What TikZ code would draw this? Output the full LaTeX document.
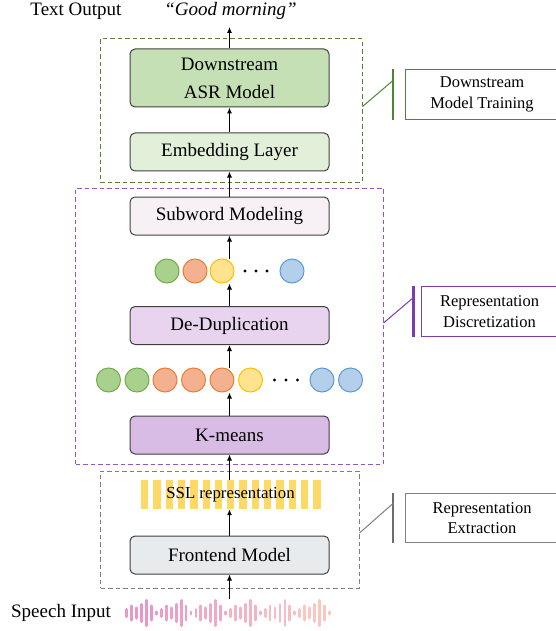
\documentclass[tikz,border=0pt]{standalone}
\usepackage{fontspec}
\setmainfont{Liberation Serif}
\usepackage{xcolor}
\usetikzlibrary{positioning,arrows.meta,calc}

\definecolor{blkline}{HTML}{404040}
\definecolor{asrfill}{HTML}{C5E0B4}
\definecolor{embfill}{HTML}{E2F0D9}
\definecolor{subfill}{HTML}{F7F1F6}
\definecolor{ddfill}{HTML}{E8D4EE}
\definecolor{kmfill}{HTML}{D8BCE5}
\definecolor{frfill}{HTML}{E8EBED}
\definecolor{dgreen}{HTML}{548235}
\definecolor{dpurple}{HTML}{9455CC}
\definecolor{tpurple}{HTML}{7A3DB0}
\definecolor{dgray}{HTML}{7F7F7F}
\definecolor{tokgd}{HTML}{70AD47}
\definecolor{tokgf}{HTML}{A9D18E}
\definecolor{tokod}{HTML}{ED7D31}
\definecolor{tokof}{HTML}{F4B18F}
\definecolor{tokyd}{HTML}{FFC000}
\definecolor{tokyf}{HTML}{FFE38F}
\definecolor{tokbd}{HTML}{5B9BD5}
\definecolor{tokbf}{HTML}{B4CFEA}
\definecolor{sslbar}{HTML}{FFD966}
\definecolor{wavea}{HTML}{E897C8}
\definecolor{waveb}{HTML}{FBC6C0}

\begin{document}
\begin{tikzpicture}[x=1pt, y=-1pt, font=\fontsize{19}{28}\selectfont,
    blk/.style={draw=blkline, line width=1pt, rounded corners=5pt, minimum width=199pt, minimum height=38pt, inner sep=0pt, align=center},
    grp/.style={draw, line width=1pt, dash pattern=on 4.5pt off 3pt, inner sep=0pt},
    tag/.style={draw, line width=1pt, inner sep=0pt, align=center, anchor=north west, minimum height=50pt, font=\fontsize{16.5}{20.5}\selectfont},
    tok/.style={circle, line width=1pt, minimum size=24pt, inner sep=0pt},
    up/.style={-{Latex[length=6pt,width=5pt]}, line width=1pt}]
    \useasboundingbox (0,0) rectangle (556,631);
    \clip (0,0) rectangle (556,631);

    % stage frames
    \node[grp, draw=dgreen, minimum width=262pt, minimum height=143pt] (gdown) at (231,110.5) {};
    \node[grp, draw=dpurple, minimum width=307.5pt, minimum height=276pt] (gdisc) at (229.25,326) {};
    \node[grp, draw=dgray, minimum width=258.3pt, minimum height=117pt] (gext) at (229.85,529.5) {};

    \node[blk, fill=asrfill, minimum height=58pt] (asr) at (229.5,78) {Downstream\\ASR Model};
    \node[blk, fill=embfill] (emb) at (229.5,152) {Embedding Layer};
    \node[blk, fill=subfill] (sub) at (229.5,216) {Subword Modeling};
    \node[blk, fill=ddfill] (dedup) at (229.5,325.5) {De-Duplication};
    \node[blk, fill=kmfill] (kmeans) at (229.5,435) {K-means};
    \node[blk, fill=frfill] (front) at (229.5,555) {Frontend Model};

    % unit tokens
    \foreach \x/\ln/\fl [count=\i] in {167/tokgd/tokgf,195/tokod/tokof,222/tokyd/tokyf,292/tokbd/tokbf}
        \node[tok, draw=\ln, fill=\fl] (ra\i) at (\x,271) {};
    \foreach \x in {245,256,267} \fill (\x,271) circle[radius=1.7pt];
    \foreach \x/\ln/\fl [count=\i] in {108.5/tokgd/tokgf,137/tokgd/tokgf,165/tokod/tokof,193.5/tokod/tokof,222/tokod/tokof,250.5/tokyd/tokyf,322/tokbd/tokbf,350.5/tokbd/tokbf}
        \node[tok, draw=\ln, fill=\fl] (rb\i) at (\x,380) {};
    \foreach \x in {274.5,286,297.5} \fill (\x,380) circle[radius=1.7pt];

    % ssl features
    \foreach \i in {0,...,14} \fill[sslbar] ({141+12.3*\i},480) rectangle ++(7.3,29);
    \node[minimum width=179pt, minimum height=29pt, inner sep=0pt, font=\fontsize{16.8}{20}\selectfont] (ssl) at (230.5,494.5) {SSL representation};

    % waveform
    \foreach \g in {0,...,5}{
        \pgfmathtruncatemacro\p{100-20*\g}
        \foreach \h [count=\k] in {10,17,13,20,28,17,5}
            \draw[line width=2.8pt, line cap=round, draw={wavea!\p!waveb}] ({126.7+34.6*\g+4.95*(\k-1)},{613-\h/2+1.4}) -- ({126.7+34.6*\g+4.95*(\k-1)},{613+\h/2-1.4});
    }

    \node (txtout) at (76,11) {Text Output};
    \node (gm) at (230.5,11) {\textit{“Good morning”}};
    \node (spin) at (61,613) {Speech Input};
    \coordinate (outtip) at (229.5,27);
    \coordinate (spk) at (229.5,599);

    \draw[up] (asr.north) -- (outtip);
    \draw[up] (emb.north) -- (asr.south);
    \draw[up] (sub.north) -- (emb.south);
    \draw[up] (sub.south |- ra3.north) -- (sub.south);
    \draw[up] (dedup.north) -- (dedup.north |- ra3.south);
    \draw[up] (dedup.south |- rb5.north) -- (dedup.south);
    \draw[up] (kmeans.north) -- (kmeans.north |- rb5.south);
    \draw[up] (ssl.north -| kmeans.south) -- (kmeans.south);
    \draw[up] (front.north) -- (front.north |- ssl.south);
    \draw[up] (spk) -- (front.south);

    % stage labels
    \node[tag, draw=dgreen, minimum width=153pt] (tdown) at (405,69) {Downstream\\Model Training};
    \draw[dgreen, line width=2.4pt] ([xshift=-12pt]tdown.north west) -- ([xshift=-12pt]tdown.south west);
    \draw[dgreen, line width=1pt] ([yshift=4pt]gdown.east) -- ([xshift=-12pt,yshift=14pt]tdown.west);

    \node[tag, draw=tpurple, minimum width=136pt] (tdisc) at (421,286) {Representation\\Discretization};
    \draw[tpurple, line width=2.4pt] ([xshift=-7.5pt]tdisc.north west) -- ([xshift=-7.5pt]tdisc.south west);
    \draw[tpurple, line width=1pt] ([yshift=3pt]gdisc.east) -- ([xshift=-7.5pt,yshift=14pt]tdisc.west);

    \node[tag, draw=dgray, minimum width=153pt, minimum height=49pt] (text) at (405,493) {Representation\\Extraction};
    \draw[dgray!85!black, line width=2.4pt] ([xshift=-12pt]text.north west) -- ([xshift=-12pt]text.south west);
    \draw[dgray, line width=1pt] ([yshift=-3.5pt]gext.east) -- ([xshift=-12pt,yshift=14.5pt]text.west);
\end{tikzpicture}
\end{document}
